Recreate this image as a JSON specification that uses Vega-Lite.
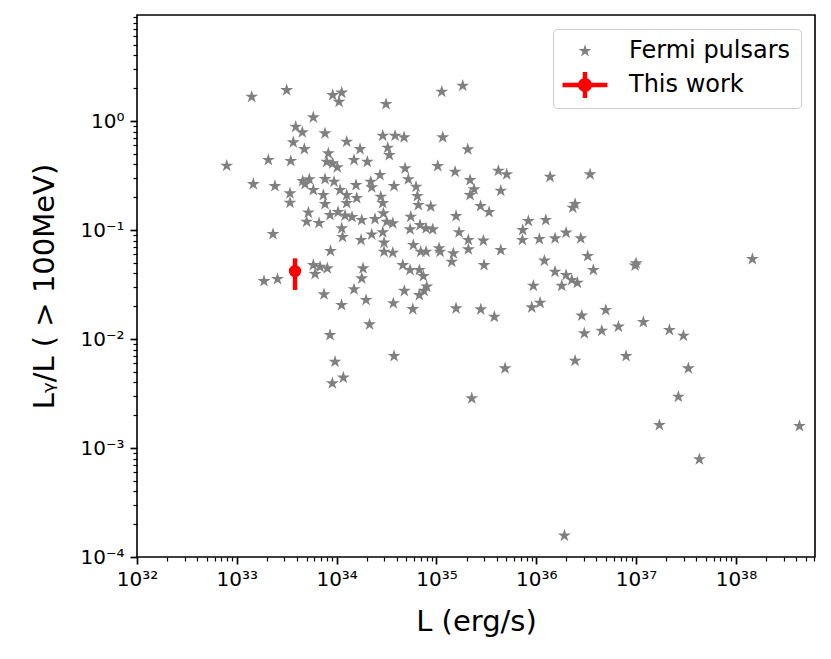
{
  "$schema": "https://vega.github.io/schema/vega-lite/v6.json",
  "width": 678,
  "height": 542,
  "autosize": {"type": "none"},
  "padding": {"left": 137, "top": 15, "right": 16, "bottom": 102},
  "background": "white",
  "config": {
    "view": {"stroke": "black", "strokeWidth": 1.6},
    "axis": {
      "domain": false, "grid": false,
      "labelFont": "DejaVu Sans", "labelFontSize": 20, "labelColor": "black",
      "titleFont": "DejaVu Sans", "titleFontSize": 29, "titleFontWeight": "normal", "titleColor": "black",
      "tickColor": "black", "labelOverlap": false, "labelFlush": false
    },
    "legend": {
      "orient": "top-right", "offset": 14,
      "labelFont": "DejaVu Sans", "labelFontSize": 24, "labelColor": "black", "labelLimit": 400,
      "symbolSize": 185, "symbolStrokeWidth": 0,
      "padding": 10, "rowPadding": 9,
      "strokeColor": "#cccccc", "fillColor": "rgba(255,255,255,0.8)", "cornerRadius": 4,
      "symbolOffset": 10, "labelOffset": 32
    }
  },
  "resolve": {"axis": {"x": "independent", "y": "independent"}},
  "layer": [
    {
      "data": {"values": [
        {"L": 1.41e33, "ratio": 1.67}, {"L": 3.16e33, "ratio": 1.92}, {"L": 9.14e33, "ratio": 1.73},
        {"L": 1.125e34, "ratio": 1.82}, {"L": 1.057e34, "ratio": 1.50}, {"L": 5.84e33, "ratio": 1.08},
        {"L": 3.89e33, "ratio": 0.886}, {"L": 4.53e33, "ratio": 0.788}, {"L": 7.65e33, "ratio": 0.771},
        {"L": 3.68e33, "ratio": 0.638}, {"L": 4.75e33, "ratio": 0.553}, {"L": 1.262e34, "ratio": 0.646},
        {"L": 1.716e34, "ratio": 0.553}, {"L": 8.26e33, "ratio": 0.505}, {"L": 7.92e32, "ratio": 0.389},
        {"L": 2.07e33, "ratio": 0.439}, {"L": 3.47e33, "ratio": 0.430}, {"L": 7.96e33, "ratio": 0.423},
        {"L": 9.14e33, "ratio": 0.409}, {"L": 1.016e34, "ratio": 0.376}, {"L": 1.494e34, "ratio": 0.439},
        {"L": 1.463e33, "ratio": 0.264}, {"L": 2.41e33, "ratio": 0.253}, {"L": 4.57e33, "ratio": 0.2815},
        {"L": 5.33e33, "ratio": 0.292}, {"L": 4.82e33, "ratio": 0.264}, {"L": 7.65e33, "ratio": 0.2937},
        {"L": 9.42e33, "ratio": 0.2774}, {"L": 5.84e33, "ratio": 0.2328}, {"L": 7.36e33, "ratio": 0.2095},
        {"L": 1.082e34, "ratio": 0.2328}, {"L": 1.564e34, "ratio": 0.2587}, {"L": 1.262e34, "ratio": 0.2095},
        {"L": 3.41e33, "ratio": 0.2172}, {"L": 3.41e33, "ratio": 0.178}, {"L": 7.65e33, "ratio": 0.1732},
        {"L": 1.262e34, "ratio": 0.1769}, {"L": 1.59e34, "ratio": 0.1966}, {"L": 3.126e34, "ratio": 1.432},
        {"L": 1.13e35, "ratio": 1.857}, {"L": 1.834e35, "ratio": 2.108}, {"L": 2.90e34, "ratio": 0.733},
        {"L": 3.85e34, "ratio": 0.733}, {"L": 4.74e34, "ratio": 0.709}, {"L": 1.156e35, "ratio": 0.709},
        {"L": 3.25e34, "ratio": 0.569}, {"L": 3.374e34, "ratio": 0.4876}, {"L": 2.059e35, "ratio": 0.55},
        {"L": 2.03e34, "ratio": 0.423}, {"L": 4.85e34, "ratio": 0.368}, {"L": 1.03e35, "ratio": 0.3865},
        {"L": 1.536e35, "ratio": 0.3426}, {"L": 4.17e35, "ratio": 0.35}, {"L": 5.06e35, "ratio": 0.3243},
        {"L": 2.72e34, "ratio": 0.3196}, {"L": 5.23e34, "ratio": 0.292}, {"L": 2.196e34, "ratio": 0.2774},
        {"L": 2.247e34, "ratio": 0.2465}, {"L": 3.76e34, "ratio": 0.2533}, {"L": 6.25e34, "ratio": 0.2495},
        {"L": 2.172e35, "ratio": 0.2876}, {"L": 2.381e35, "ratio": 0.2362}, {"L": 2.172e35, "ratio": 0.2095},
        {"L": 4.41e35, "ratio": 0.2294}, {"L": 6.44e34, "ratio": 0.205}, {"L": 2.767e34, "ratio": 0.202},
        {"L": 2.90e34, "ratio": 0.1769}, {"L": 6.59e34, "ratio": 0.1696}, {"L": 8.77e34, "ratio": 0.1643},
        {"L": 2.766e35, "ratio": 0.166}, {"L": 3.366e35, "ratio": 0.1463}, {"L": 5.21e33, "ratio": 0.1447},
        {"L": 5.01e33, "ratio": 0.1192}, {"L": 6.66e33, "ratio": 0.116}, {"L": 8.59e33, "ratio": 0.1373},
        {"L": 1.033e34, "ratio": 0.1463}, {"L": 1.214e34, "ratio": 0.1358}, {"L": 1.427e34, "ratio": 0.1316},
        {"L": 1.125e34, "ratio": 0.1036}, {"L": 1.146e34, "ratio": 0.0863}, {"L": 1.756e34, "ratio": 0.081},
        {"L": 1.784e34, "ratio": 0.1235}, {"L": 2.425e34, "ratio": 0.1262}, {"L": 2.247e34, "ratio": 0.091},
        {"L": 2.305e33, "ratio": 0.0919}, {"L": 8.69e33, "ratio": 0.0642}, {"L": 5.84e33, "ratio": 0.0477},
        {"L": 6.82e33, "ratio": 0.046}, {"L": 8.07e33, "ratio": 0.0445}, {"L": 6.08e33, "ratio": 0.0395},
        {"L": 1.873e33, "ratio": 0.034}, {"L": 2.557e33, "ratio": 0.0355}, {"L": 7.47e33, "ratio": 0.0257},
        {"L": 1.12e34, "ratio": 0.0205}, {"L": 1.839e34, "ratio": 0.0445}, {"L": 1.784e34, "ratio": 0.036},
        {"L": 1.494e34, "ratio": 0.0286}, {"L": 2.94e34, "ratio": 0.1423}, {"L": 3.177e34, "ratio": 0.1192},
        {"L": 3.65e34, "ratio": 0.1152}, {"L": 5.53e34, "ratio": 0.1324}, {"L": 1.572e35, "ratio": 0.1344},
        {"L": 5.44e34, "ratio": 0.1015}, {"L": 6.85e34, "ratio": 0.1111}, {"L": 7.87e34, "ratio": 0.1036},
        {"L": 9.18e34, "ratio": 0.1015}, {"L": 1.685e35, "ratio": 0.0953}, {"L": 2.087e35, "ratio": 0.081},
        {"L": 2.95e35, "ratio": 0.0798}, {"L": 4.41e35, "ratio": 0.0655}, {"L": 2.90e34, "ratio": 0.0953},
        {"L": 2.985e34, "ratio": 0.0765}, {"L": 2.985e34, "ratio": 0.0632}, {"L": 3.65e34, "ratio": 0.0619},
        {"L": 5.87e34, "ratio": 0.0729}, {"L": 6.96e34, "ratio": 0.0632}, {"L": 7.87e34, "ratio": 0.0632},
        {"L": 1.062e35, "ratio": 0.068}, {"L": 1.087e35, "ratio": 0.0632}, {"L": 2.087e35, "ratio": 0.0665},
        {"L": 1.477e35, "ratio": 0.0611}, {"L": 1.423e35, "ratio": 0.0512}, {"L": 3.0e35, "ratio": 0.0477},
        {"L": 4.60e34, "ratio": 0.0477}, {"L": 5.44e34, "ratio": 0.043}, {"L": 6.74e34, "ratio": 0.043},
        {"L": 7.39e34, "ratio": 0.0378}, {"L": 7.99e34, "ratio": 0.0302}, {"L": 7.51e34, "ratio": 0.0277},
        {"L": 6.74e34, "ratio": 0.0253}, {"L": 4.77e34, "ratio": 0.0276}, {"L": 1.971e34, "ratio": 0.0228},
        {"L": 3.70e34, "ratio": 0.0213}, {"L": 5.79e34, "ratio": 0.0188}, {"L": 1.572e35, "ratio": 0.0191},
        {"L": 2.78e35, "ratio": 0.0187}, {"L": 3.80e35, "ratio": 0.016}, {"L": 2.136e34, "ratio": 0.0136},
        {"L": 1.375e36, "ratio": 0.308}, {"L": 3.46e36, "ratio": 0.3243}, {"L": 2.448e36, "ratio": 0.1732},
        {"L": 2.32e36, "ratio": 0.1602}, {"L": 8.33e35, "ratio": 0.121}, {"L": 1.245e36, "ratio": 0.1235},
        {"L": 7.32e35, "ratio": 0.1}, {"L": 7.26e35, "ratio": 0.081}, {"L": 1.074e36, "ratio": 0.0827},
        {"L": 1.543e36, "ratio": 0.0839}, {"L": 1.99e36, "ratio": 0.0945}, {"L": 2.792e36, "ratio": 0.0839},
        {"L": 3.28e36, "ratio": 0.0577}, {"L": 1.206e36, "ratio": 0.0523}, {"L": 3.73e36, "ratio": 0.043},
        {"L": 1.0e37, "ratio": 0.0495}, {"L": 9.77e36, "ratio": 0.0472}, {"L": 1.543e36, "ratio": 0.0414},
        {"L": 1.99e36, "ratio": 0.0387}, {"L": 2.268e36, "ratio": 0.0348}, {"L": 2.58e36, "ratio": 0.0328},
        {"L": 1.80e36, "ratio": 0.0308}, {"L": 9.35e35, "ratio": 0.0308}, {"L": 1.092e36, "ratio": 0.0215},
        {"L": 9.01e35, "ratio": 0.0195}, {"L": 2.857e36, "ratio": 0.0164}, {"L": 4.97e36, "ratio": 0.01845},
        {"L": 1.183e37, "ratio": 0.01432}, {"L": 6.65e36, "ratio": 0.01297}, {"L": 4.53e36, "ratio": 0.01191},
        {"L": 3.03e36, "ratio": 0.01128}, {"L": 1.463e38, "ratio": 0.0542}, {"L": 2.157e37, "ratio": 0.0121},
        {"L": 2.98e37, "ratio": 0.01072}, {"L": 2.448e36, "ratio": 0.00632}, {"L": 7.94e36, "ratio": 0.00698},
        {"L": 3.34e37, "ratio": 0.00538}, {"L": 2.654e37, "ratio": 0.002955}, {"L": 1.712e37, "ratio": 0.001626},
        {"L": 4.33e38, "ratio": 0.00159}, {"L": 4.31e37, "ratio": 0.000788}, {"L": 1.912e36, "ratio": 0.000157},
        {"L": 8.59e33, "ratio": 0.01088}, {"L": 9.64e33, "ratio": 0.00619}, {"L": 3.76e34, "ratio": 0.00698},
        {"L": 1.167e34, "ratio": 0.00442}, {"L": 9.06e33, "ratio": 0.00392}, {"L": 4.87e35, "ratio": 0.00538},
        {"L": 2.258e35, "ratio": 0.002858}
      ]},
      "mark": {"type": "point", "filled": true, "opacity": 1, "size": 185, "strokeWidth": 0},
      "encoding": {
        "x": {
          "field": "L", "type": "quantitative",
          "scale": {"type": "log", "domain": [1e32, 6.2e38], "nice": false},
          "axis": {
            "orient": "bottom",
            "title": "L (erg/s)",
            "values": [1e32, 1e33, 1e34, 1e35, 1e36, 1e37, 1e38],
            "labelExpr": "datum.value == 1e32 ? '10³²' : datum.value == 1e33 ? '10³³' : datum.value == 1e34 ? '10³⁴' : datum.value == 1e35 ? '10³⁵' : datum.value == 1e36 ? '10³⁶' : datum.value == 1e37 ? '10³⁷' : '10³⁸'",
            "tickSize": 7, "tickWidth": 1.7,
            "labelPadding": 5,
            "titlePadding": 18
          }
        },
        "y": {
          "field": "ratio", "type": "quantitative",
          "scale": {"type": "log", "domain": [0.0001, 9.4], "nice": false},
          "axis": {
            "orient": "left",
            "title": "Lᵧ/L ( > 100MeV)",
            "values": [0.0001, 0.001, 0.01, 0.1, 1],
            "labelExpr": "datum.value == 1 ? '10⁰' : datum.value == 0.1 ? '10⁻¹' : datum.value == 0.01 ? '10⁻²' : datum.value == 0.001 ? '10⁻³' : '10⁻⁴'",
            "tickSize": 7, "tickWidth": 1.7,
            "labelPadding": 6,
            "titlePadding": 20
          }
        },
        "color": {
          "datum": "Fermi pulsars", "type": "nominal",
          "scale": {"domain": ["Fermi pulsars", "This work"], "range": ["#808080", "#ff0000"]},
          "legend": {"title": null}
        },
        "shape": {
          "datum": "Fermi pulsars", "type": "nominal",
          "scale": {"domain": ["Fermi pulsars", "This work"], "range": [
            "M0,-1L0.2245,-0.309L0.9511,-0.309L0.3633,0.118L0.5878,0.809L0,0.382L-0.5878,0.809L-0.3633,0.118L-0.9511,-0.309L-0.2245,-0.309Z",
            "M-3.3,-0.33H3.3V0.33H-3.3Z M-0.33,-1.9H0.33V1.9H-0.33Z M-1.03,0A1.03,1.03 0 1,1 1.03,0A1.03,1.03 0 1,1 -1.03,0Z"
          ]},
          "legend": {"title": null}
        }
      }
    },
    {
      "data": {"values": [{"L": 3.83e33, "ratio": 0.042, "lo": 0.0282, "hi": 0.055}]},
      "encoding": {
        "x": {
          "field": "L", "type": "quantitative",
          "scale": {"type": "log", "domain": [1e32, 6.2e38], "nice": false},
          "axis": {
            "orient": "bottom", "title": null, "labels": false,
            "tickSize": 4, "tickWidth": 1.2,
            "values": [2e32, 3e32, 4e32, 5e32, 6e32, 7e32, 8e32, 9e32,
                       2e33, 3e33, 4e33, 5e33, 6e33, 7e33, 8e33, 9e33,
                       2e34, 3e34, 4e34, 5e34, 6e34, 7e34, 8e34, 9e34,
                       2e35, 3e35, 4e35, 5e35, 6e35, 7e35, 8e35, 9e35,
                       2e36, 3e36, 4e36, 5e36, 6e36, 7e36, 8e36, 9e36,
                       2e37, 3e37, 4e37, 5e37, 6e37, 7e37, 8e37, 9e37,
                       2e38, 3e38, 4e38, 5e38, 6e38]
          }
        }
      },
      "layer": [
        {
          "mark": {"type": "rule", "color": "#ff0000", "strokeWidth": 4.5},
          "encoding": {
            "y": {
              "field": "lo", "type": "quantitative",
              "scale": {"type": "log", "domain": [0.0001, 9.4], "nice": false},
              "axis": {
                "orient": "left", "title": null, "labels": false,
                "tickSize": 4, "tickWidth": 1.2,
                "values": [0.0002, 0.0003, 0.0004, 0.0005, 0.0006, 0.0007, 0.0008, 0.0009,
                           0.002, 0.003, 0.004, 0.005, 0.006, 0.007, 0.008, 0.009,
                           0.02, 0.03, 0.04, 0.05, 0.06, 0.07, 0.08, 0.09,
                           0.2, 0.3, 0.4, 0.5, 0.6, 0.7, 0.8, 0.9,
                           2, 3, 4, 5, 6, 7, 8, 9]
              }
            },
            "y2": {"field": "hi"}
          }
        },
        {
          "mark": {"type": "circle", "color": "#ff0000", "opacity": 1, "size": 154},
          "encoding": {
            "y": {
              "field": "ratio", "type": "quantitative",
              "scale": {"type": "log", "domain": [0.0001, 9.4], "nice": false}
            }
          }
        }
      ]
    }
  ]
}
